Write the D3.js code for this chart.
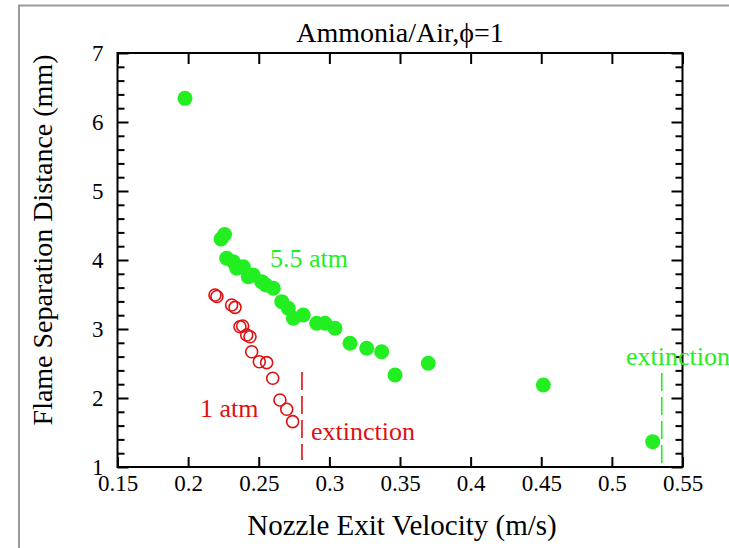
<!DOCTYPE html>
<html>
<head>
<meta charset="utf-8">
<script src="https://cdn.jsdelivr.net/npm/d3@7"></script>
<style>
  body { margin: 0; background: #fff; }
  svg text { font-family: "Liberation Serif", "Times New Roman", serif; }
</style>
</head>
<body>
<div id="chart"></div>
<script>
// 5.5 atm, filled green
var highX = [0.1978, 0.2233, 0.2258, 0.2273, 0.2320, 0.2344, 0.2391, 0.2426, 0.2461,
             0.2521, 0.2551, 0.2603, 0.2663, 0.2709, 0.2745, 0.2815, 0.2910, 0.2969,
             0.3040, 0.3146, 0.3264, 0.3370, 0.3465, 0.3700, 0.4515, 0.5289];
var highY = [6.343, 4.304, 4.370, 4.025, 3.975, 3.880, 3.903, 3.758, 3.783,
             3.686, 3.638, 3.590, 3.396, 3.300, 3.155, 3.203, 3.083, 3.083,
             3.010, 2.793, 2.720, 2.671, 2.333, 2.503, 2.188, 1.367];

// 1 atm, open red
var lowX = [0.2190, 0.2204, 0.2308, 0.2332, 0.2367, 0.2386, 0.2415, 0.2438, 0.2450,
            0.2504, 0.2556, 0.2599, 0.2650, 0.2698, 0.2740];
var lowY = [3.493, 3.471, 3.348, 3.314, 3.033, 3.043, 2.913, 2.888, 2.671,
            2.526, 2.512, 2.286, 1.971, 1.836, 1.657];

// extinction limits (x, y from, y to)
var lowExt = [0.2806, 2.377, 1.101];
var highExt = [0.5353, 2.362, 1.058];

var xTicks = [0.15, 0.2, 0.25, 0.3, 0.35, 0.4, 0.45, 0.5, 0.55];
var xTickLabels = ["0.15", "0.2", "0.25", "0.3", "0.35", "0.4", "0.45", "0.5", "0.55"];
var yTicks = [1, 2, 3, 4, 5, 6, 7];
var yMinor = d3.range(1.2, 7, 0.2).filter(function(v) { return Math.abs(v - Math.round(v)) > 0.01; });

var green = "#22ee22", red = "#dd1111";

var svg = d3.select("#chart").append("svg")
    .attr("width", 729)
    .attr("height", 548);

// outer grey frame
svg.append("rect")
    .attr("x", 19).attr("y", 5.5)
    .attr("width", 760).attr("height", 600)
    .attr("fill", "none")
    .attr("stroke", "#999")
    .attr("stroke-width", 2);

var pLeft = 117.5, pRight = 682.5, pTop = 53, pBottom = 467;

var x = d3.scaleLinear().domain([0.15, 0.55]).range([pLeft, pRight]);
var y = d3.scaleLinear().domain([1, 7]).range([pBottom, pTop]);

function styleAxis(g) {
  g.select(".domain").remove();
  g.selectAll("line").attr("stroke", "#000").attr("stroke-width", 2);
  g.selectAll("text").attr("fill", "#000").style("font-size", "23px")
    .style("font-family", '"Liberation Serif", "Times New Roman", serif');
}

svg.append("g")
    .attr("transform", "translate(0," + pBottom + ")")
    .call(d3.axisBottom(x).tickValues(xTicks).tickSize(-10).tickPadding(8)
      .tickFormat(function(d, i) { return xTickLabels[i]; }))
    .call(styleAxis);

svg.append("g")
    .attr("transform", "translate(0," + pTop + ")")
    .call(d3.axisTop(x).tickValues(xTicks).tickSize(-11).tickFormat(""))
    .call(styleAxis);

svg.append("g")
    .attr("transform", "translate(" + pLeft + ",0)")
    .call(d3.axisLeft(y).tickValues(yTicks).tickSize(-11).tickPadding(14).tickFormat(d3.format("d")))
    .call(styleAxis);

svg.append("g")
    .attr("transform", "translate(" + pLeft + ",0)")
    .call(d3.axisLeft(y).tickValues(yMinor).tickSize(-7).tickFormat(""))
    .call(styleAxis);

svg.append("g")
    .attr("transform", "translate(" + pRight + ",0)")
    .call(d3.axisRight(y).tickValues(yTicks).tickSize(-11).tickFormat(""))
    .call(styleAxis);

svg.append("g")
    .attr("transform", "translate(" + pRight + ",0)")
    .call(d3.axisRight(y).tickValues(yMinor).tickSize(-7).tickFormat(""))
    .call(styleAxis);

// plot frame
svg.append("rect")
    .attr("x", pLeft).attr("y", pTop)
    .attr("width", pRight - pLeft).attr("height", pBottom - pTop)
    .attr("fill", "none")
    .attr("stroke", "#000")
    .attr("stroke-width", 2);

// 5.5 atm points
svg.append("g").selectAll("circle")
    .data(d3.range(highX.length))
    .enter().append("circle")
      .attr("cx", function(i) { return x(highX[i]); })
      .attr("cy", function(i) { return y(highY[i]); })
      .attr("r", 7.5)
      .attr("fill", green);

// 1 atm points
svg.append("g").selectAll("circle")
    .data(d3.range(lowX.length))
    .enter().append("circle")
      .attr("cx", function(i) { return x(lowX[i]); })
      .attr("cy", function(i) { return y(lowY[i]); })
      .attr("r", 6)
      .attr("fill", "none")
      .attr("stroke", red)
      .attr("stroke-width", 1.6);

// extinction lines
[[lowExt, red], [highExt, green]].forEach(function(e) {
  svg.append("line")
      .attr("x1", x(e[0][0])).attr("x2", x(e[0][0]))
      .attr("y1", y(e[0][1])).attr("y2", y(e[0][2]))
      .attr("stroke", e[1])
      .attr("stroke-width", 1.6)
      .attr("stroke-dasharray", "18,6");
});

// labels
svg.append("text").attr("x", 270).attr("y", 267)
    .attr("fill", green).style("font-size", "26px").text("5.5 atm");
svg.append("text").attr("x", 626).attr("y", 365)
    .attr("fill", green).style("font-size", "26px").text("extinction");
svg.append("text").attr("x", 200).attr("y", 417)
    .attr("fill", red).style("font-size", "26px").text("1 atm");
svg.append("text").attr("x", 311).attr("y", 440)
    .attr("fill", red).style("font-size", "26px").text("extinction");

// titles
svg.append("text")
    .attr("x", 400).attr("y", 42)
    .attr("text-anchor", "middle")
    .style("font-size", "28px")
    .text("Ammonia/Air,\u03D5=1");

svg.append("text")
    .attr("x", 402).attr("y", 535)
    .attr("text-anchor", "middle")
    .style("font-size", "29px")
    .text("Nozzle Exit Velocity (m/s)");

svg.append("text")
    .attr("transform", "translate(52,240) rotate(-90)")
    .attr("text-anchor", "middle")
    .style("font-size", "28px")
    .text("Flame Separation Distance (mm)");
</script>
</body>
</html>
